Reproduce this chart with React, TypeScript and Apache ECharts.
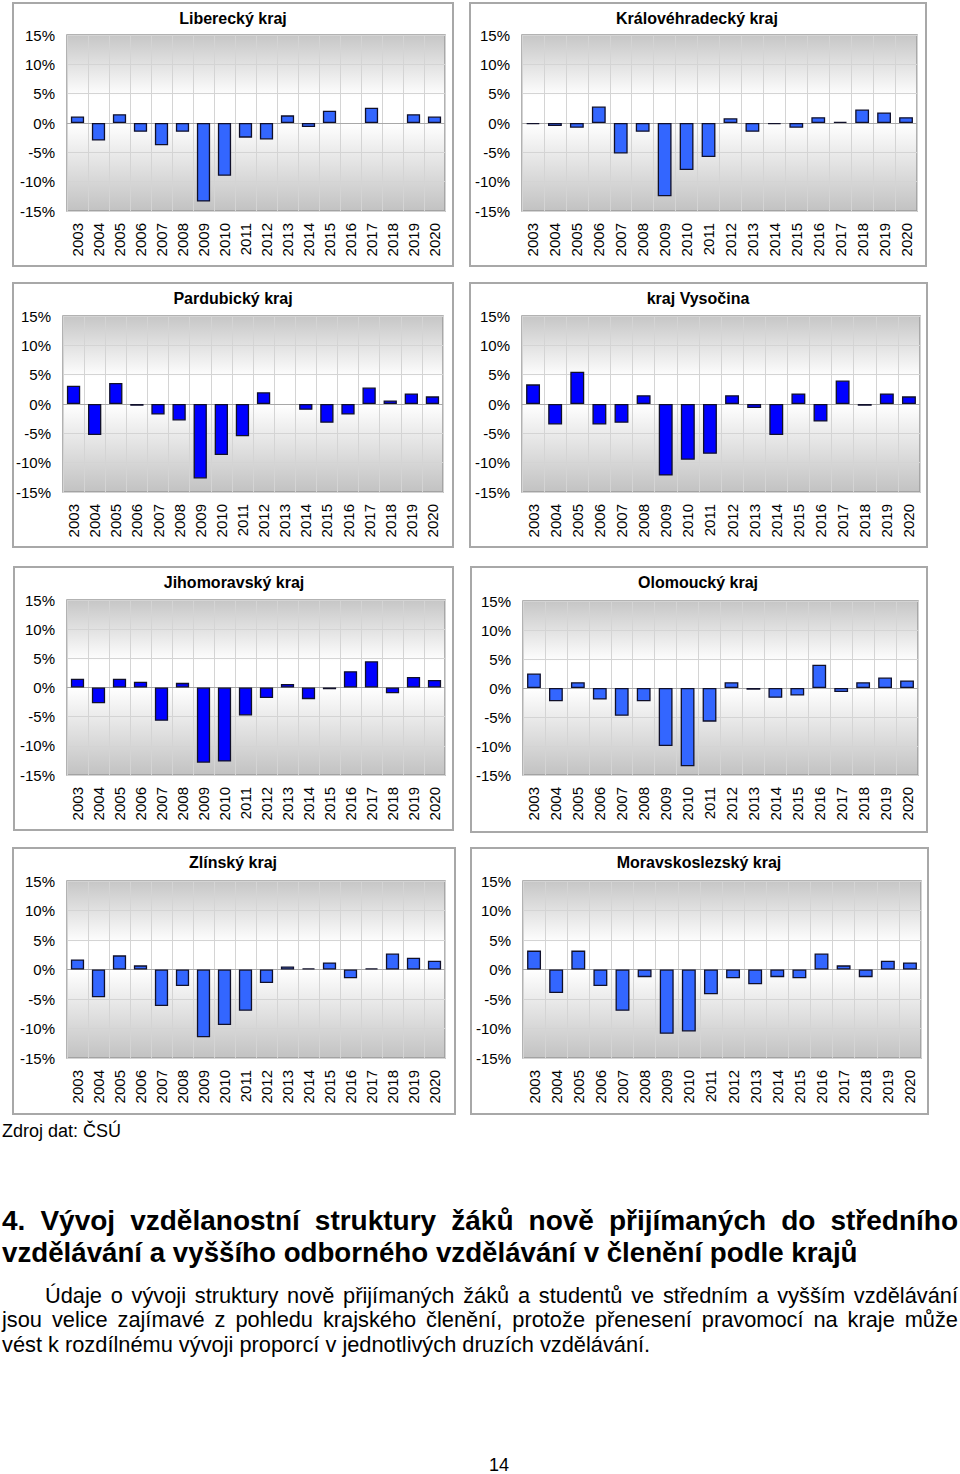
import React, { useEffect, useRef } from 'react';
import * as echarts from 'echarts';

const years = ['2003', '2004', '2005', '2006', '2007', '2008', '2009', '2010', '2011', '2012', '2013', '2014', '2015', '2016', '2017', '2018', '2019', '2020'];
const yTicks = [-15, -10, -5, 0, 5, 10, 15];

const regionNames = ['Liberecký kraj', 'Královéhradecký kraj', 'Pardubický kraj', 'kraj Vysočina', 'Jihomoravský kraj', 'Olomoucký kraj', 'Zlínský kraj', 'Moravskoslezský kraj'];

// null = no visible bar (zero change)
const liberecky = [1.1, -3.0, 1.5, -1.5, -3.8, -1.5, -13.4, -9.0, -2.5, -2.8, 1.3, -0.7, 2.1, null, 2.6, null, 1.5, 1.1];
const kralovehradecky = [-0.2, -0.5, -0.8, 2.8, -5.2, -1.5, -12.5, -8.0, -5.8, 0.8, -1.5, -0.2, -0.8, 1.0, 0.2, 2.3, 1.8, 1.0];
const pardubicky = [3.1, -5.3, 3.6, -0.3, -1.8, -2.8, -12.7, -8.7, -5.5, 2.0, null, -1.0, -3.2, -1.8, 2.8, 0.6, 1.8, 1.3];
const vysocina = [3.35, -3.5, 5.5, -3.5, -3.2, 1.5, -12.2, -9.5, -8.5, 1.5, -0.7, -5.3, 1.8, -3.0, 4.0, -0.3, 1.8, 1.3];
const jihomoravsky = [1.5, -2.7, 1.5, 1.0, -5.7, 0.8, -12.9, -12.7, -4.8, -1.8, 0.6, -2.0, -0.3, 2.8, 4.5, -1.0, 1.8, 1.3];
const olomoucky = [2.5, -2.3, 1.0, -2.0, -4.8, -2.3, -10.0, -13.5, -5.8, 1.0, -0.3, -1.7, -1.3, 4.0, -0.7, 1.0, 1.8, 1.3];
const zlinsky = [1.7, -4.7, 2.4, 0.7, -6.2, -2.8, -11.5, -9.4, -7.0, -2.3, 0.5, 0.2, 1.2, -1.5, 0.2, 2.7, 2.0, 1.5];
const moravskoslezsky = [3.2, -4.0, 3.2, -2.8, -7.0, -1.3, -10.9, -10.5, -4.2, -1.5, -2.5, -1.3, -1.5, 2.7, 0.7, -1.3, 1.5, 1.2];

const seriesValues = [liberecky, kralovehradecky, pardubicky, vysocina, jihomoravsky, olomoucky, zlinsky, moravskoslezsky];

const LIGHT_BLUE = '#3366ff';
const PURE_BLUE = '#0000ff';
const barColors = [LIGHT_BLUE, LIGHT_BLUE, PURE_BLUE, PURE_BLUE, PURE_BLUE, LIGHT_BLUE, LIGHT_BLUE, LIGHT_BLUE];

// layout: frame box, plot grid, title center
const layout = [
  { frame: [13, 3, 440, 263], grid: [67, 35, 378, 176], title: [233, 18] },
  { frame: [470, 3, 456, 263], grid: [522, 35, 395, 176], title: [697, 18] },
  { frame: [13, 283, 440, 264], grid: [63, 316, 380, 176], title: [233, 298] },
  { frame: [470, 283, 457, 264], grid: [522, 316, 398, 176], title: [698, 298] },
  { frame: [14, 567, 439, 263], grid: [67, 600, 378, 175], title: [234, 582] },
  { frame: [471, 567, 456, 265], grid: [523, 601, 395, 174], title: [698, 582] },
  { frame: [13, 848, 442, 266], grid: [67, 881, 378, 177], title: [233, 862] },
  { frame: [471, 848, 457, 266], grid: [523, 881, 398, 177], title: [699, 862] },
];

const FONT = '"Liberation Sans", Arial, Helvetica, sans-serif';

export default function App() {
  const ref = useRef<HTMLDivElement>(null);

  useEffect(() => {
    if (!ref.current) return;
    const chart = echarts.init(ref.current, null, { renderer: 'svg' });

    const bg = new echarts.graphic.LinearGradient(0, 0, 0, 1, [
      { offset: 0, color: '#c6c6c6' },
      { offset: 0.35, color: '#ffffff' },
      { offset: 0.5, color: '#ffffff' },
      { offset: 1, color: '#c2c2c2' },
    ]);

    const grids = layout.map((l) => ({
      left: l.grid[0],
      top: l.grid[1],
      width: l.grid[2],
      height: l.grid[3],
      show: true,
      backgroundColor: bg,
      borderColor: '#999999',
      borderWidth: 1.5,
      containLabel: false,
    }));

    const xAxes = layout.map((_, i) => ({
      type: 'category',
      gridIndex: i,
      data: years,
      boundaryGap: true,
      axisLine: { show: false },
      axisTick: { show: false },
      splitLine: { show: true, lineStyle: { color: '#d4d4d4', width: 1 } },
      axisLabel: {
        rotate: 90,
        interval: 0,
        margin: 12,
        fontSize: 15,
        color: '#000',
        fontFamily: FONT,
      },
    }));

    const yAxes = layout.map((_, i) => ({
      type: 'value',
      gridIndex: i,
      min: yTicks[0],
      max: yTicks[yTicks.length - 1],
      interval: 5,
      axisLine: { show: false },
      axisTick: { show: false },
      splitLine: { show: true, lineStyle: { color: '#d4d4d4', width: 1 } },
      axisLabel: {
        formatter: '{value}%',
        margin: 12,
        fontSize: 15,
        color: '#000',
        fontFamily: FONT,
      },
    }));

    const series = seriesValues.map((vals, i) => ({
      type: 'bar',
      name: regionNames[i],
      xAxisIndex: i,
      yAxisIndex: i,
      data: vals,
      barCategoryGap: '37%',
      itemStyle: { color: barColors[i], borderColor: '#10102a', borderWidth: 1.3 },
      markLine: {
        silent: true,
        symbol: 'none',
        label: { show: false },
        lineStyle: { color: '#a8a8a8', width: 1, type: 'solid' },
        data: [{ yAxis: 0 }],
        z: 1,
      },
    }));

    const graphics: any[] = [];
    layout.forEach((l, i) => {
      graphics.push({
        type: 'rect',
        shape: { x: l.frame[0], y: l.frame[1], width: l.frame[2], height: l.frame[3] },
        style: { fill: 'none', stroke: '#a8a8a8', lineWidth: 2 },
        silent: true,
      });
      graphics.push({
        type: 'text',
        x: l.title[0],
        y: l.title[1],
        style: {
          text: regionNames[i],
          font: `bold 16px ${FONT}`,
          fill: '#000',
          align: 'center',
          verticalAlign: 'middle',
        },
        silent: true,
      });
    });

    chart.setOption({
      animation: false,
      backgroundColor: '#ffffff',
      grid: grids,
      xAxis: xAxes,
      yAxis: yAxes,
      series,
      graphic: graphics,
    });

    return () => chart.dispose();
  }, []);

  const abs = (top: number, extra: any = {}) => ({
    position: 'absolute' as const,
    left: 2,
    top,
    width: 956,
    whiteSpace: 'nowrap' as const,
    fontFamily: FONT,
    color: '#000',
    ...extra,
  });

  return (
    <div style={{ position: 'absolute', left: 0, top: 0, width: 960, height: 1474, background: '#fff', overflow: 'hidden' }}>
      <div ref={ref} style={{ position: 'absolute', left: 0, top: 0, width: 960, height: 1474 }} />
      <div style={abs(1120, { fontSize: 18, lineHeight: '22px' })}>Zdroj dat: ČSÚ</div>
      <div style={abs(1204, { fontSize: 28, fontWeight: 'bold', lineHeight: '34px', textAlign: 'justify', textAlignLast: 'justify' })}>
        4. Vývoj vzdělanostní struktury žáků nově přijímaných do středního
      </div>
      <div style={abs(1236, { fontSize: 27.7, fontWeight: 'bold', lineHeight: '34px' })}>
        vzdělávání a vyššího odborného vzdělávání v členění podle krajů
      </div>
      <div style={abs(1284, { fontSize: 21.8, lineHeight: '24px', textAlign: 'justify', textAlignLast: 'justify', textIndent: 43 })}>
        Údaje o vývoji struktury nově přijímaných žáků a studentů ve středním a vyšším vzdělávání
      </div>
      <div style={abs(1308, { fontSize: 21.8, lineHeight: '24px', textAlign: 'justify', textAlignLast: 'justify' })}>
        jsou velice zajímavé z pohledu krajského členění, protože přenesení pravomocí na kraje může
      </div>
      <div style={abs(1333, { fontSize: 21.8, lineHeight: '24px' })}>
        vést k rozdílnému vývoji proporcí v jednotlivých druzích vzdělávání.
      </div>
      <div style={{ position: 'absolute', left: 489, top: 1453, fontFamily: FONT, fontSize: 18, lineHeight: '24px', color: '#000' }}>14</div>
    </div>
  );
}
